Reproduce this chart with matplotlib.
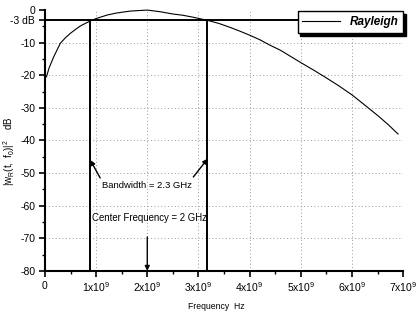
import numpy as np
import matplotlib
matplotlib.use('Agg')
import matplotlib.pyplot as plt

# values (frequency in GHz, level in dB)
frecuencia = [0.03, 0.08, 0.17, 0.3, 0.4, 0.5, 0.6, 0.69, 0.8, 0.89, 1.0, 1.22, 1.4,
              1.67, 2.0, 2.25, 2.5, 2.7, 2.9, 3.19, 3.4, 3.6, 3.8, 4.0, 4.2, 4.39,
              4.6, 4.8, 5.0, 5.25, 5.5, 5.75, 6.0, 6.28, 6.5, 6.7, 6.9]
nivel = [-20.5, -17.8, -14.4, -10.2, -8.5, -7.1, -5.9, -4.9, -4.0, -3.3, -2.6, -1.5, -0.9,
         -0.3, 0.0, -0.5, -1.2, -1.6, -2.2, -3.2, -4.1, -5.2, -6.4, -7.7, -9.1, -10.7,
         -12.3, -14.2, -16.1, -18.4, -20.8, -23.3, -26.0, -29.5, -32.3, -35.0, -38.0]

# band edges and centre (GHz)
f_baja = 0.887
f_alta = 3.16
f_centro = 2.0

x_ticks = [0, 1, 2, 3, 4, 5, 6, 7]
x_labels = ['0'] + [r'%dx10$^9$' % k for k in x_ticks[1:]]
y_ticks = [0, -3, -10, -20, -30, -40, -50, -60, -70, -80]
y_labels = ['0', '-3 dB', '-10', '-20', '-30', '-40', '-50', '-60', '-70', '-80']

plt.rcParams['font.family'] = ['Liberation Sans', 'DejaVu Sans']
plt.rcParams['mathtext.default'] = 'regular'

fig = plt.figure(figsize=(4.16, 3.15), dpi=100)
ax = fig.add_axes([0.108, 0.140, 0.861, 0.828])

f = np.array(frecuencia) * 1e9

# grid (dotted, only at the round ticks)
for xv in x_ticks[1:]:
    ax.axvline(xv * 1e9, color='#999999', ls=(0, (1, 2.5)), lw=0.7, zorder=0)
for yv in y_ticks[2:-1]:
    ax.axhline(yv, color='#999999', ls=(0, (1, 2.5)), lw=0.7, zorder=0)

ax.plot(f, nivel, color='k', lw=0.8, label='Rayleigh', clip_on=False, zorder=3)

# -3 dB line and bandwidth markers
ax.plot([0, 7e9], [-3, -3], color='k', lw=1.4, zorder=2)
ax.plot([f_baja * 1e9, f_baja * 1e9], [-3, -80], color='k', lw=1.4, zorder=2)
ax.plot([f_alta * 1e9, f_alta * 1e9], [-3, -80], color='k', lw=1.4, zorder=2)

flecha = dict(arrowstyle='-|>', color='k', lw=1.0, mutation_scale=7, shrinkA=0, shrinkB=0)
ax.annotate('', xy=(f_baja * 1e9, -46), xytext=(1.08e9, -51.5), arrowprops=flecha)
ax.annotate('', xy=(3.18e9, -45.6), xytext=(2.9e9, -51.2), arrowprops=flecha)
ax.text(2.0e9, -53.8, 'Bandwidth = 2.3 GHz', fontsize=6.8, ha='center', va='center')
ax.text(2.05e9, -63.8, 'Center Frequency = 2 GHz', fontsize=6.9, ha='center', va='center')
ax.annotate('', xy=(f_centro * 1e9, -80), xytext=(f_centro * 1e9, -69.6), arrowprops=flecha)

ax.set_xlim(0, 7e9)
ax.set_ylim(-80, 0)
ax.set_xticks([v * 1e9 for v in x_ticks])
ax.set_xticklabels(x_labels, fontsize=7.5)
ax.set_yticks(y_ticks)
ax.set_yticklabels(y_labels, fontsize=7.5)
ax.set_xticks(np.arange(0.5, 7, 1) * 1e9, minor=True)
ax.set_yticks(np.arange(-75, 0, 10), minor=True)
ax.tick_params(which='major', direction='out', length=4, width=1.2, pad=3)
ax.tick_params(which='minor', direction='out', length=2.5, width=1.0)

for lado in ['top', 'right']:
    ax.spines[lado].set_visible(False)
for lado in ['left', 'bottom']:
    ax.spines[lado].set_linewidth(1.5)

ax.set_xlabel('Frequency  Hz', fontsize=6.2)
ax.xaxis.set_label_coords(0.478, -0.119)
ax.set_ylabel(r'$|w_R(t,\ f_0)|^2$    dB', fontsize=7)
ax.yaxis.set_label_coords(-0.078, 0.46)

leg = ax.legend(loc='upper right', bbox_to_anchor=(1.0, 0.995), fancybox=False,
                shadow={'color': 'k', 'alpha': 1.0}, edgecolor='k', framealpha=1,
                borderaxespad=0, handlelength=3.2, prop={'weight': 'bold', 'style': 'italic', 'size': 8.5})
leg.get_frame().set_linewidth(1.0)

fig.savefig('out.png', dpi=100)
